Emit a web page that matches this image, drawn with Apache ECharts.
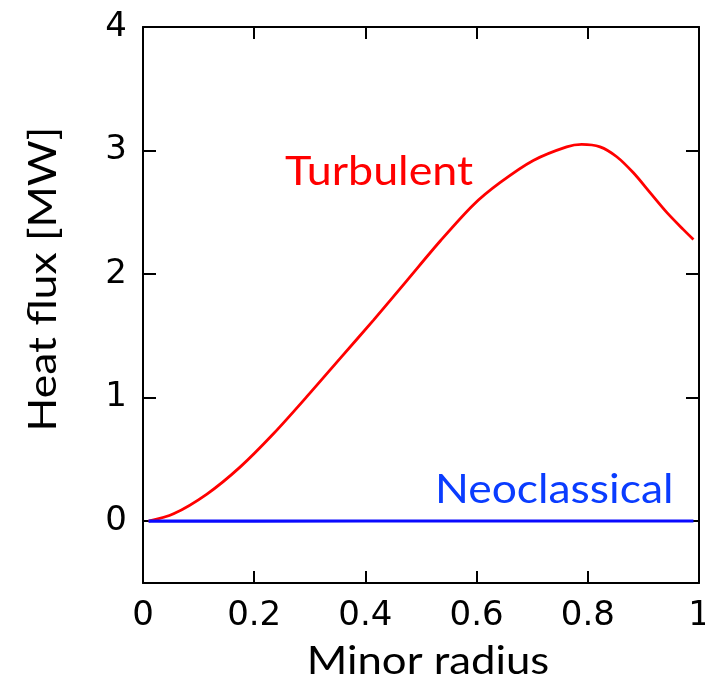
<!DOCTYPE html>
<html>
<head>
<meta charset="utf-8">
<script src="https://cdn.jsdelivr.net/npm/echarts@6/dist/echarts.min.js"></script>
<style>html,body{margin:0;padding:0;background:#fff}#c{width:705px;height:684px}</style>
</head>
<body>
<div id="c"></div>
<script>
var radiusTurb = [0.01, 0.055, 0.115, 0.175, 0.235, 0.295, 0.355, 0.415, 0.475, 0.535, 0.594, 0.642, 0.702, 0.762, 0.789, 0.822, 0.852, 0.882, 0.912, 0.942, 0.972, 0.99];
var turbulent  = [0.0, 0.06, 0.22, 0.44, 0.71, 1.01, 1.32, 1.63, 1.95, 2.27, 2.56, 2.74, 2.92, 3.03, 3.05, 3.03, 2.95, 2.82, 2.66, 2.50, 2.36, 2.28];
var radiusNeo = [0.01, 0.2, 0.4, 0.6, 0.8, 0.99];
var neoclassical = [0.0, 0.001, 0.002, 0.002, 0.002, 0.002];
var xTicks = [0, 0.2, 0.4, 0.6, 0.8, 1];
var yTicks = [0, 1, 2, 3, 4];

function pairs(xs, ys){ return xs.map(function(x,i){ return [x, ys[i]]; }); }

var chart = echarts.init(document.getElementById('c'), null, {renderer:'canvas'});
var axisLine = {show:true, onZero:false, lineStyle:{color:'#000', width:2}};
var tickFont = {fontFamily:'DejaVu Sans', fontSize:34, color:'#000'};
var labelFont = 'Lato';
var tickStyle = {color:'#000', width:2};
chart.setOption({
  animation:false,
  grid:{left:143, right:6, top:27, bottom:101, containLabel:false, outerBoundsMode:'none'},
  xAxis:[
    {type:'value', min:0, max:1, interval:0.2, position:'bottom',
     axisLine:axisLine, splitLine:{show:false},
     axisTick:{show:true, inside:true, length:12, lineStyle:tickStyle, customValues:xTicks},
     axisLabel:Object.assign({margin:16, customValues:xTicks, formatter:function(v){return String(+(+v).toFixed(1));}}, tickFont)},
    {type:'value', min:0, max:1, interval:0.2, position:'top',
     axisLine:axisLine, splitLine:{show:false},
     axisTick:{show:true, inside:true, length:12, lineStyle:tickStyle, customValues:xTicks},
     axisLabel:{show:false}}
  ],
  yAxis:[
    {type:'value', min:-0.5, max:4, interval:0.5, position:'left',
     axisLine:axisLine, splitLine:{show:false},
     axisTick:{show:true, inside:true, length:13, lineStyle:tickStyle, customValues:yTicks},
     axisLabel:Object.assign({margin:16, customValues:yTicks}, tickFont)},
    {type:'value', min:-0.5, max:4, interval:0.5, position:'right',
     axisLine:axisLine, splitLine:{show:false},
     axisTick:{show:true, inside:true, length:13, lineStyle:tickStyle, customValues:yTicks},
     axisLabel:{show:false}}
  ],
  series:[
    {name:'Turbulent', type:'line', xAxisIndex:0, yAxisIndex:0, data:pairs(radiusTurb, turbulent),
     smooth:0.3, showSymbol:false, lineStyle:{color:'#ff0000', width:2.8}, z:3},
    {name:'Neoclassical', type:'line', xAxisIndex:0, yAxisIndex:0, data:pairs(radiusNeo, neoclassical),
     smooth:false, showSymbol:false, lineStyle:{color:'#0a0aff', width:3.2}, z:4}
  ],
  graphic:[
    {type:'text', x:285, y:152, scaleX:1.12, style:{text:'Turbulent', fill:'#ff0000', font:'40px '+labelFont, align:'left', verticalAlign:'top'}},
    {type:'text', x:435, y:470, scaleX:1.11, style:{text:'Neoclassical', fill:'#0a3cff', font:'40px '+labelFont, align:'left', verticalAlign:'top'}},
    {type:'text', x:428, y:662, scaleX:1.15, style:{text:'Minor radius', fill:'#000', font:'38px '+labelFont, align:'center', verticalAlign:'middle'}},
    {type:'text', x:44, y:279, rotation:Math.PI/2, scaleX:1.17, style:{text:'Heat flux [MW]', fill:'#000', font:'38px '+labelFont, align:'center', verticalAlign:'middle'}}
  ]
});
</script>
</body>
</html>
